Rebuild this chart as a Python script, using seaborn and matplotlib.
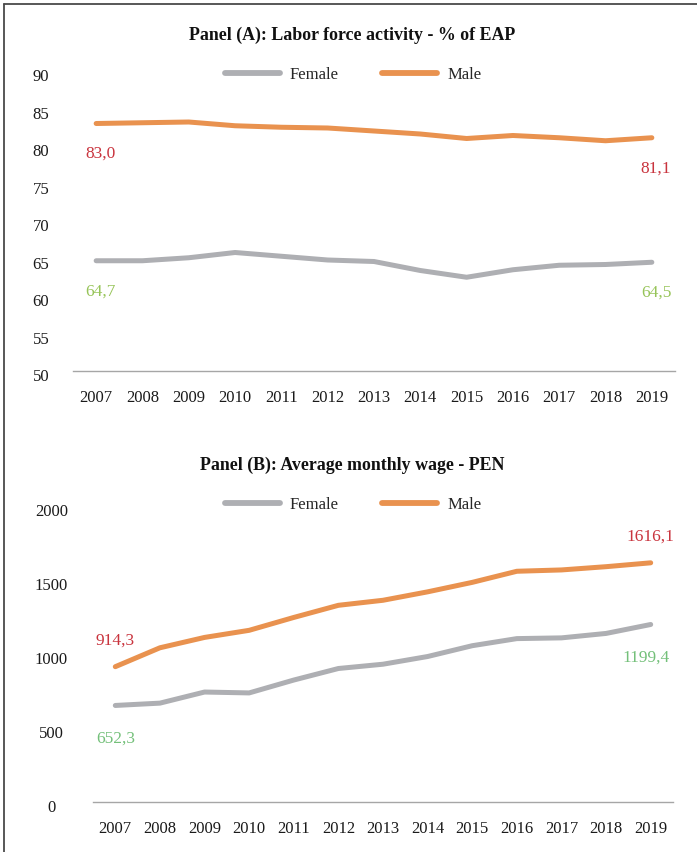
import matplotlib
matplotlib.use("Agg")
import matplotlib.pyplot as plt
import matplotlib.transforms as mtransforms
from matplotlib.lines import Line2D
import pandas as pd
import seaborn as sns

# data
years = list(range(2007, 2020))
lfp_female = [64.7, 64.7, 65.1, 65.8, 65.3, 64.8, 64.6, 63.4, 62.5, 63.5, 64.1, 64.2, 64.5]
lfp_male = [83.0, 83.1, 83.2, 82.7, 82.5, 82.4, 82.0, 81.6, 81.0, 81.4, 81.1, 80.7, 81.1]
wage_female = [652.3, 668, 743, 737, 824, 902, 931, 983, 1056, 1104, 1109, 1139, 1199.4]
wage_male = [914.3, 1042, 1112, 1160, 1247, 1329, 1363, 1420, 1484, 1559, 1568, 1590, 1616.1]
series = ["Female", "Male"]

sns.set_style("white")
plt.rcParams["font.family"] = ["Liberation Serif", "DejaVu Serif"]

palette = {"Female": "#AEAFB3", "Male": "#E9924F"}
red = "#C9343E"

W, H = 697, 852
fig = plt.figure(figsize=(W / 100, H / 100), dpi=100)


def to_long(female, male):
    df = pd.DataFrame({"Year": years, "Female": female, "Male": male})
    return df.melt(id_vars="Year", value_vars=series, var_name="Sex", value_name="Value")


def fmt(v):
    return f"{v:.1f}".replace(".", ",")


def draw_panel(rect, df, ylim, yticks, ypad, title, title_y, legend_y, labels):
    ax = fig.add_axes(rect)
    sns.lineplot(data=df, x="Year", y="Value", hue="Sex", palette=palette,
                 linewidth=3.6, ax=ax, legend=True)
    for ln in ax.lines:
        ln.set_solid_capstyle("round")
        ln.set_solid_joinstyle("round")
    ax.set_xlim(years[0] - 0.5, years[-1] + 0.5)
    ax.set_ylim(*ylim)
    ax.set_yticks(yticks)
    ax.set_xticks(years)
    ax.set_xlabel("")
    ax.set_ylabel("")
    for s in ["top", "right", "left"]:
        ax.spines[s].set_visible(False)
    ax.spines["bottom"].set_color("#A6A6A6")
    ax.spines["bottom"].set_linewidth(1.0)
    ax.tick_params(axis="both", length=0, labelsize=12, colors="#1a1a1a")
    ax.tick_params(axis="y", pad=ypad)
    ax.tick_params(axis="x", pad=14)
    off = mtransforms.ScaledTranslation(0, -3 / 72, fig.dpi_scale_trans)
    for lab in ax.get_yticklabels():
        lab.set_horizontalalignment("center")
        lab.set_transform(lab.get_transform() + off)

    # legend
    ax.get_legend().remove()
    hl = [Line2D([], [], color=palette[n], lw=4.2, solid_capstyle="round") for n in series]
    ax.legend(hl, series, loc="center", bbox_to_anchor=(353 / W, 1 - legend_y / H),
              bbox_transform=fig.transFigure, ncol=2, frameon=False, fontsize=12,
              handlelength=3.3, handletextpad=0.6, columnspacing=2.6)

    fig.text(352 / W, 1 - title_y / H, title, ha="center", va="center",
             fontsize=12.9, fontweight="bold", color="#111111")

    # value labels at first and last year
    for (name, vals, dy, dx0, dx1, color) in labels:
        for i, dx in ((0, dx0), (-1, dx1)):
            ax.annotate(fmt(vals[i]), (years[i], vals[i]), xytext=(dx, dy),
                        textcoords="offset points", ha="center", va="center",
                        fontsize=12.5, color=color)
    return ax


dfA = to_long(lfp_female, lfp_male)
draw_panel([73 / W, 1 - 371 / H, 602 / W, 300 / H], dfA, (50, 90), range(50, 91, 5), 23,
           "Panel (A): Labor force activity - % of EAP", 35, 75,
           [("Male", lfp_male, -22, 3, 3, red),
            ("Female", lfp_female, -22, 3, 3, "#97C459")])

dfB = to_long(wage_female, wage_male)
draw_panel([93 / W, 1 - 802 / H, 580 / W, 296 / H], dfB, (0, 2000), range(0, 2001, 500), 30,
           "Panel (B): Average monthly wage - PEN", 465, 505,
           [("Male", wage_male, 19, 0, 0, red),
            ("Female", wage_female, -24, 0, -3, "#74C07A")])

# frame: left and top edges visible
fig.add_artist(Line2D([4 / W, 4 / W], [0, 1 - 4 / H], transform=fig.transFigure,
                      color="#4a4a4a", lw=1.3))
fig.add_artist(Line2D([4 / W, 1], [1 - 4 / H, 1 - 4 / H], transform=fig.transFigure,
                      color="#4a4a4a", lw=1.3))

fig.savefig("out.png", dpi=100, facecolor="white")
